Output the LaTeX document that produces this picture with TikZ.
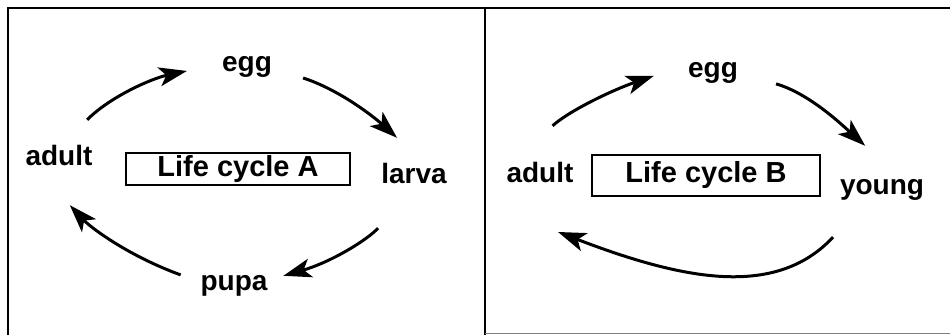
\documentclass[tikz,border=0pt]{standalone}
\usepackage{fontspec}
\setmainfont{Liberation Sans}
\usetikzlibrary{arrows.meta}

\begin{document}
\begin{tikzpicture}[x=1pt,y=1pt]
    \tikzstyle{stage}=[anchor=base,inner sep=0pt,text height=19.5pt,text depth=6pt,font=\bfseries\fontsize{28}{32}\selectfont]
    \tikzstyle{namebox}=[draw,line width=1.2pt,inner sep=0pt,font=\bfseries\fontsize{29}{34}\selectfont]
    \tikzstyle{turn}=[line width=3pt,-{Stealth[length=28pt,width=19pt,inset=7pt]}]
    \useasboundingbox (0,0) rectangle (950,335);
    \draw[line width=1.5pt] (950,327) -- (8,327) -- (8,0);
    \draw[line width=1.5pt] (485,327) -- (485,0);
    \draw[line width=1pt,gray] (485,1.5) -- (950,1.5);

    % life cycle A
    \node (eggA)[stage] at (247,263) {egg};
    \node (larvaA)[stage] at (414,151) {larva};
    \node (pupaA)[stage] at (234,45) {pupa};
    \node (adultA)[stage] at (59,169) {adult};
    \node (boxA)[namebox,minimum width=224pt,minimum height=32pt] at (238,166) {Life cycle A};

    \draw[turn,shorten <=37.5pt,shorten >=35.8pt] (adultA.83) to[out=45,in=192] (eggA.176);
    \draw[turn,shorten <=32.6pt,shorten >=39.6pt] (eggA.-6) to[out=-18,in=138] (larvaA.46);
    \draw[turn,shorten <=51.1pt,shorten >=16.4pt] (larvaA.262) to[out=228,in=16] (pupaA.5);
    \draw[turn,shorten <=21pt,shorten >=45.1pt] (pupaA.178) to[out=160,in=-47] (adultA.213);

    % life cycle B
    \node (eggB)[stage] at (713,257) {egg};
    \node (youngB)[stage] at (882,140) {young};
    \node (adultB)[stage] at (540,152) {adult};
    \node (boxB)[namebox,minimum width=228pt,minimum height=41pt] at (706,159.5) {Life cycle B};
    \coordinate (backB) at (558,103);

    \draw[turn,shorten <=56pt,shorten >=35.9pt] (adultB.156) to[out=42,in=199] (eggB.164);
    \draw[turn,shorten <=39.5pt,shorten >=44.1pt] (eggB.-4) to[out=-16,in=138] (youngB.39);
    \draw[turn,shorten <=49.2pt] (youngB.220) to[out=227,in=-21,looseness=1.1] (backB);
\end{tikzpicture}
\end{document}
